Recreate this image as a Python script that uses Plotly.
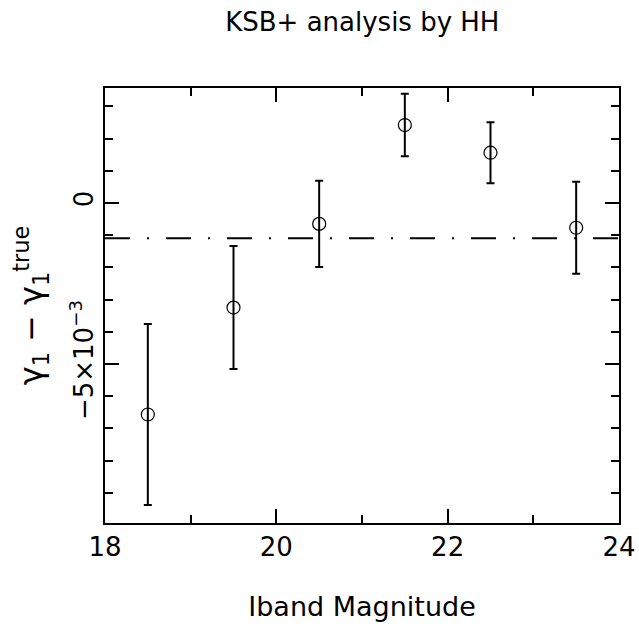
import numpy as np
import plotly.graph_objects as go

# Data
mag = [18.5, 19.5, 20.5, 21.5, 22.5, 23.5]
dgamma = [-6.57e-3, -3.25e-3, -0.65e-3, 2.42e-3, 1.56e-3, -0.77e-3]
dgamma_err = [2.81e-3, 1.91e-3, 1.34e-3, 0.97e-3, 0.95e-3, 1.43e-3]
mean_level = -1.10e-3

x_range = [18, 24]
y_range = [-0.00994, 0.00357]
y_major_vals = [-0.005, 0.0]
y_major_text = ["\u22125\u00d710<sup>\u22123</sup>", "0"]

FONT = "DejaVu Sans"

fig = go.Figure()
fig.add_trace(go.Scatter(
    x=mag, y=dgamma, mode="markers",
    marker=dict(symbol="circle-open", size=13, color="black", line=dict(width=1.2, color="black")),
    error_y=dict(type="data", array=dgamma_err, visible=True, color="black", thickness=2, width=4),
    showlegend=False, hoverinfo="skip",
))
fig.add_trace(go.Scatter(
    x=x_range, y=[mean_level, mean_level], mode="lines",
    line=dict(color="black", width=2, dash="25px,17px,2px,17px"),
    showlegend=False, hoverinfo="skip",
))

fig.update_layout(
    width=639, height=631, autosize=False,
    margin=dict(l=105, r=20, t=88, b=108, autoexpand=False),
    paper_bgcolor="white", plot_bgcolor="white",
    font=dict(family=FONT, color="black"),
    title=dict(text="KSB+ analysis by HH", x=0.567, xanchor="center", y=0.966, yanchor="middle",
               font=dict(size=26, family=FONT)),
)
fig.update_xaxes(
    range=x_range, showgrid=False, zeroline=False, automargin=False,
    showline=True, linecolor="black", linewidth=2, mirror="ticks",
    ticks="inside", ticklen=14, tickwidth=2, tickcolor="black",
    tickmode="linear", tick0=18, dtick=2, ticklabeloverflow="allow",
    minor=dict(ticks="inside", ticklen=8, tickwidth=2, tickcolor="black", dtick=1, tick0=18),
    tickfont=dict(size=26, family=FONT),
    title=dict(text="Iband Magnitude", font=dict(size=27, family=FONT), standoff=36),
)
fig.update_yaxes(
    range=y_range, showgrid=False, zeroline=False, automargin=False,
    showline=True, linecolor="black", linewidth=2, mirror="ticks",
    ticks="inside", ticklen=14, tickwidth=2, tickcolor="black",
    tickmode="array", tickvals=y_major_vals, ticktext=y_major_text, tickangle=-90,
    minor=dict(ticks="inside", ticklen=8, tickwidth=2, tickcolor="black",
               tickmode="array", tickvals=list(np.round(np.arange(-0.009, 0.0035, 0.001), 4))),
    tickfont=dict(size=26, family=FONT),
    title=dict(text="\u03b3<sub>1</sub> \u2212 \u03b3<sub>1</sub><sup>true</sup>", font=dict(size=32, family=FONT), standoff=12),
)

fig.write_html(
    "out.html",
    config={"responsive": False, "displayModeBar": False, "staticPlot": True},
    post_script="document.body.style.margin='0';document.body.style.overflow='hidden';",
)
